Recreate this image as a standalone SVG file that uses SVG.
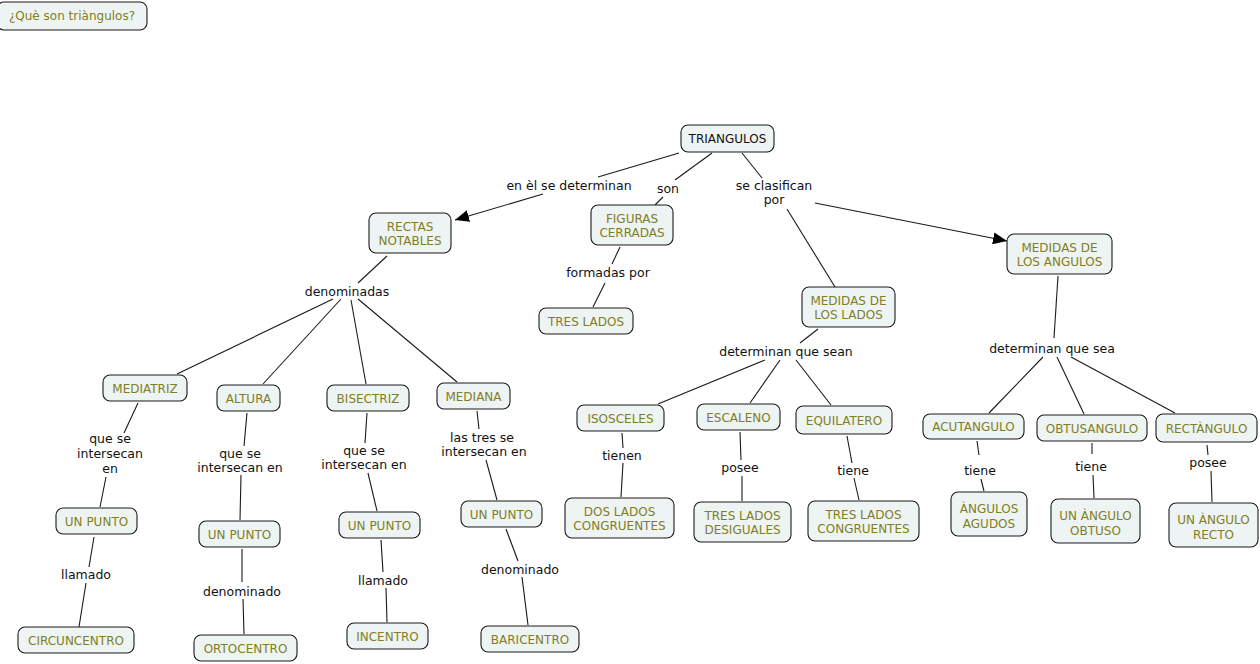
<svg xmlns="http://www.w3.org/2000/svg" width="1260" height="664" viewBox="0 0 1260 664">
<defs>
<style>
.n rect{fill:#eef3f3;stroke:#1a1a1a;stroke-width:1.1}
.n text{font-family:"DejaVu Sans",Verdana,sans-serif;font-size:12px;fill:#7f7f22;text-anchor:middle}
.n text.k{fill:#111}
.l{font-family:"DejaVu Sans",Verdana,sans-serif;font-size:12.5px;fill:#111;text-anchor:middle}
#connectors line{stroke:#1a1a1a;stroke-width:1.1;fill:none}
</style>
<marker id="arr" markerUnits="userSpaceOnUse" markerWidth="16" markerHeight="12" refX="14" refY="6" orient="auto">
<path d="M0,0 L14,6 L0,12 Z" fill="#000"/>
</marker>
</defs>
<rect width="1260" height="664" fill="#fff"/>
<g id="connectors">
<line x1="679" y1="153" x2="598" y2="177"/>
<line x1="543" y1="194" x2="455" y2="220" marker-end="url(#arr)"/>
<line x1="712" y1="153" x2="675" y2="180"/>
<line x1="663" y1="197" x2="655" y2="205"/>
<line x1="742" y1="153" x2="762" y2="178"/>
<line x1="787" y1="209" x2="835" y2="287"/>
<line x1="815" y1="203" x2="1007" y2="241" marker-end="url(#arr)"/>
<line x1="620" y1="247" x2="612" y2="264"/>
<line x1="605" y1="283" x2="593" y2="307"/>
<line x1="387" y1="256" x2="358" y2="283"/>
<line x1="333" y1="299" x2="177" y2="374"/>
<line x1="341" y1="299" x2="263" y2="384"/>
<line x1="351" y1="300" x2="366" y2="384"/>
<line x1="358" y1="299" x2="457" y2="382"/>
<line x1="138" y1="403" x2="124" y2="433"/>
<line x1="106" y1="477" x2="100" y2="507"/>
<line x1="94" y1="537" x2="89" y2="567"/>
<line x1="86" y1="583" x2="79" y2="627"/>
<line x1="247" y1="413" x2="244" y2="446"/>
<line x1="241" y1="475" x2="240" y2="520"/>
<line x1="242" y1="549" x2="242" y2="582"/>
<line x1="243" y1="599" x2="244" y2="634"/>
<line x1="367" y1="413" x2="365" y2="443"/>
<line x1="368" y1="473" x2="377" y2="511"/>
<line x1="381" y1="540" x2="383" y2="572"/>
<line x1="386" y1="588" x2="387" y2="622"/>
<line x1="477" y1="411" x2="479" y2="429"/>
<line x1="486" y1="460" x2="497" y2="500"/>
<line x1="506" y1="529" x2="518" y2="561"/>
<line x1="522" y1="577" x2="528" y2="625"/>
<line x1="818" y1="329" x2="800" y2="343"/>
<line x1="765" y1="360" x2="658" y2="404"/>
<line x1="780" y1="360" x2="750" y2="403"/>
<line x1="796" y1="360" x2="831" y2="405"/>
<line x1="622" y1="433" x2="623" y2="448"/>
<line x1="623" y1="463" x2="621" y2="497"/>
<line x1="740" y1="432" x2="741" y2="460"/>
<line x1="742" y1="476" x2="742" y2="501"/>
<line x1="847" y1="436" x2="852" y2="463"/>
<line x1="854" y1="478" x2="859" y2="500"/>
<line x1="1058" y1="276" x2="1054" y2="338"/>
<line x1="1043" y1="357" x2="989" y2="413"/>
<line x1="1057" y1="357" x2="1084" y2="414"/>
<line x1="1071" y1="357" x2="1175" y2="413"/>
<line x1="977" y1="441" x2="979" y2="455"/>
<line x1="981" y1="479" x2="984" y2="491"/>
<line x1="1092" y1="443" x2="1092" y2="454"/>
<line x1="1093" y1="475" x2="1094" y2="498"/>
<line x1="1207" y1="445" x2="1208" y2="455"/>
<line x1="1211" y1="471" x2="1212" y2="502"/>
</g>
<g id="labels">
<text class="l" x="569" y="190">en èl se determinan</text>
<text class="l" x="668" y="193">son</text>
<text class="l" x="774" y="190">se clasifican</text>
<text class="l" x="774" y="204">por</text>
<text class="l" x="608" y="277">formadas por</text>
<text class="l" x="347" y="296">denominadas</text>
<text class="l" x="786" y="356">determinan que sean</text>
<text class="l" x="1052" y="353">determinan que sea</text>
<text class="l" x="110" y="443">que se</text>
<text class="l" x="110" y="458">intersecan</text>
<text class="l" x="110" y="473">en</text>
<text class="l" x="86" y="579">llamado</text>
<text class="l" x="240" y="458">que se</text>
<text class="l" x="240" y="472">intersecan en</text>
<text class="l" x="242" y="596">denominado</text>
<text class="l" x="364" y="455">que se</text>
<text class="l" x="364" y="469">intersecan en</text>
<text class="l" x="383" y="585">llamado</text>
<text class="l" x="482" y="442">las tres se</text>
<text class="l" x="484" y="456">intersecan en</text>
<text class="l" x="520" y="574">denominado</text>
<text class="l" x="622" y="460">tienen</text>
<text class="l" x="740" y="472">posee</text>
<text class="l" x="853" y="475">tiene</text>
<text class="l" x="980" y="475">tiene</text>
<text class="l" x="1091" y="471">tiene</text>
<text class="l" x="1208" y="467">posee</text>
</g>
<g id="n0" class="n"><rect x="-3" y="2" width="150" height="28" rx="7"/><text x="72" y="20">¿Què son triàngulos?</text></g>
<g id="n1" class="n"><rect x="681" y="125" width="93" height="27" rx="7"/><text class="k" x="727.5" y="143">TRIANGULOS</text></g>
<g id="n2" class="n"><rect x="369" y="213" width="82" height="40" rx="7"/><text x="410" y="230.5">RECTAS</text><text x="410" y="244.5">NOTABLES</text></g>
<g id="n3" class="n"><rect x="591" y="205" width="82" height="40" rx="7"/><text x="632" y="222.5">FIGURAS</text><text x="632" y="236.5">CERRADAS</text></g>
<g id="n4" class="n"><rect x="539" y="308" width="94" height="26" rx="7"/><text x="586" y="325.5">TRES LADOS</text></g>
<g id="n5" class="n"><rect x="802" y="287" width="93" height="40" rx="7"/><text x="848.5" y="304.5">MEDIDAS DE</text><text x="848.5" y="318.5">LOS LADOS</text></g>
<g id="n6" class="n"><rect x="1007" y="234" width="105" height="40" rx="7"/><text x="1059.5" y="251.5">MEDIDAS DE</text><text x="1059.5" y="265.5">LOS ANGULOS</text></g>
<g id="n7" class="n"><rect x="103" y="375" width="84" height="26" rx="7"/><text x="145" y="392.5">MEDIATRIZ</text></g>
<g id="n8" class="n"><rect x="217" y="385" width="63" height="26" rx="7"/><text x="248.5" y="402.5">ALTURA</text></g>
<g id="n9" class="n"><rect x="327" y="385" width="82" height="26" rx="7"/><text x="368" y="402.5">BISECTRIZ</text></g>
<g id="n10" class="n"><rect x="437" y="383" width="73" height="26" rx="7"/><text x="473.5" y="400.5">MEDIANA</text></g>
<g id="n11" class="n"><rect x="56" y="508" width="81" height="26" rx="7"/><text x="96.5" y="525.5">UN PUNTO</text></g>
<g id="n12" class="n"><rect x="199" y="521" width="81" height="26" rx="7"/><text x="239.5" y="538.5">UN PUNTO</text></g>
<g id="n13" class="n"><rect x="339" y="512" width="81" height="26" rx="7"/><text x="379.5" y="529.5">UN PUNTO</text></g>
<g id="n14" class="n"><rect x="461" y="501" width="81" height="26" rx="7"/><text x="501.5" y="518.5">UN PUNTO</text></g>
<g id="n15" class="n"><rect x="18" y="627" width="116" height="26" rx="7"/><text x="76" y="644.5">CIRCUNCENTRO</text></g>
<g id="n16" class="n"><rect x="194" y="635" width="103" height="26" rx="7"/><text x="245.5" y="652.5">ORTOCENTRO</text></g>
<g id="n17" class="n"><rect x="347" y="623" width="81" height="26" rx="7"/><text x="387.5" y="640.5">INCENTRO</text></g>
<g id="n18" class="n"><rect x="481" y="626" width="98" height="26" rx="7"/><text x="530" y="643.5">BARICENTRO</text></g>
<g id="n19" class="n"><rect x="577" y="405" width="87" height="26" rx="7"/><text x="620.5" y="422.5">ISOSCELES</text></g>
<g id="n20" class="n"><rect x="697" y="404" width="83" height="26" rx="7"/><text x="738.5" y="421.5">ESCALENO</text></g>
<g id="n21" class="n"><rect x="796" y="406" width="96" height="28" rx="7"/><text x="844" y="424.5">EQUILATERO</text></g>
<g id="n22" class="n"><rect x="565" y="498" width="109" height="40" rx="7"/><text x="619.5" y="515.5">DOS LADOS</text><text x="619.5" y="529.5">CONGRUENTES</text></g>
<g id="n23" class="n"><rect x="694" y="502" width="97" height="40" rx="7"/><text x="742.5" y="519.5">TRES LADOS</text><text x="742.5" y="533.5">DESIGUALES</text></g>
<g id="n24" class="n"><rect x="808" y="501" width="111" height="40" rx="7"/><text x="863.5" y="518.5">TRES LADOS</text><text x="863.5" y="532.5">CONGRUENTES</text></g>
<g id="n25" class="n"><rect x="923" y="414" width="101" height="25" rx="7"/><text x="973.5" y="431">ACUTANGULO</text></g>
<g id="n26" class="n"><rect x="1037" y="415" width="110" height="26" rx="7"/><text x="1092" y="432.5">OBTUSANGULO</text></g>
<g id="n27" class="n"><rect x="1156" y="414" width="101" height="28" rx="7"/><text x="1206.5" y="432.5">RECTÀNGULO</text></g>
<g id="n28" class="n"><rect x="951" y="492" width="76" height="44" rx="7"/><text x="989" y="512.5">ÀNGULOS</text><text x="989" y="527.5">AGUDOS</text></g>
<g id="n29" class="n"><rect x="1051" y="499" width="89" height="44" rx="7"/><text x="1095.5" y="519.5">UN ÀNGULO</text><text x="1095.5" y="534.5">OBTUSO</text></g>
<g id="n30" class="n"><rect x="1169" y="503" width="89" height="44" rx="7"/><text x="1213.5" y="523.5">UN ÀNGULO</text><text x="1213.5" y="538.5">RECTO</text></g>
</svg>
